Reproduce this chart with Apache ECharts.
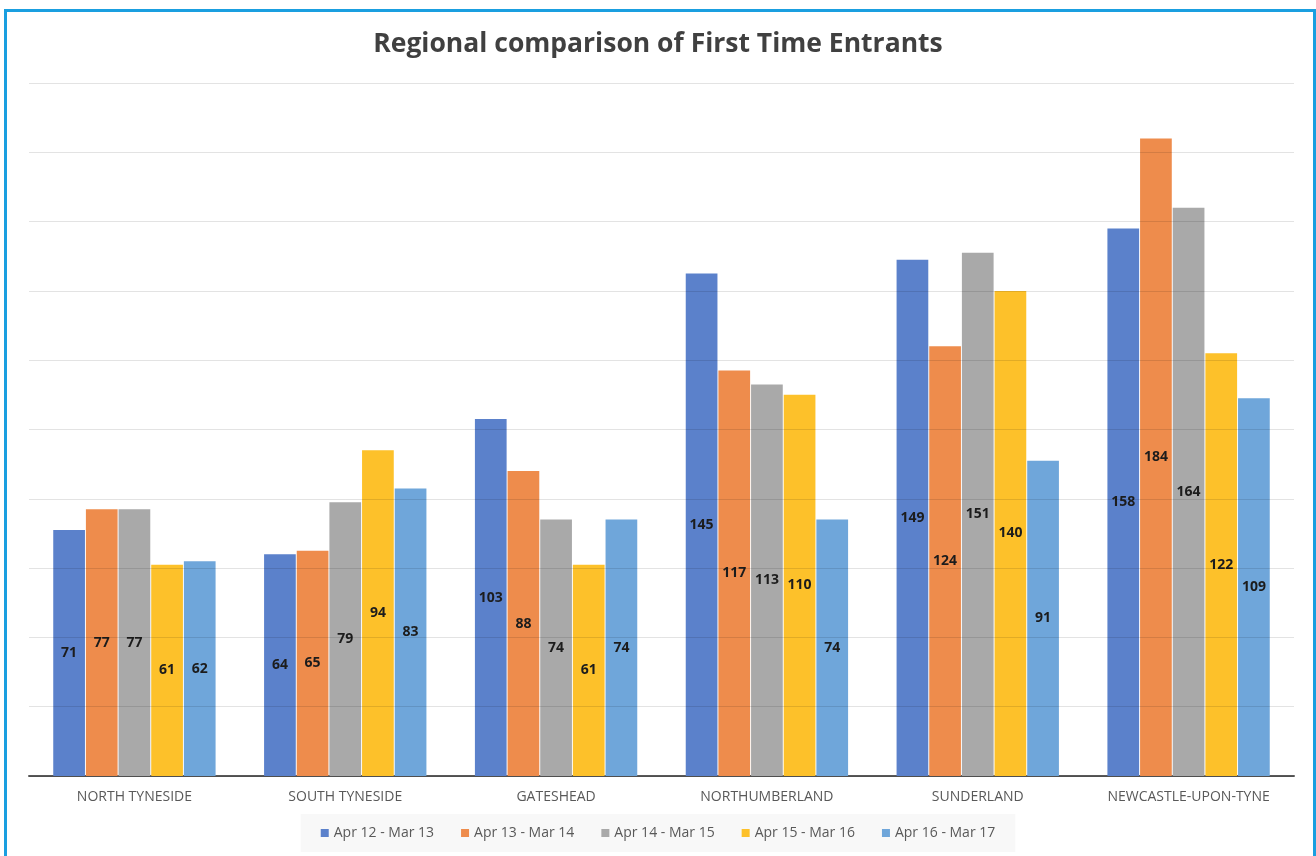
<!DOCTYPE html>
<html>
<head>
<meta charset="utf-8">
<title>Regional comparison of First Time Entrants</title>
<script src="https://cdn.jsdelivr.net/npm/echarts@6/dist/echarts.min.js"></script>
<style>
  html, body { margin: 0; padding: 0; background: #fff; }
  #chart { width: 1316px; height: 856px; }
</style>
</head>
<body>
<div id="chart"></div>
<script>
const regions = ['NORTH TYNESIDE', 'SOUTH TYNESIDE', 'GATESHEAD', 'NORTHUMBERLAND', 'SUNDERLAND', 'NEWCASTLE-UPON-TYNE']
const periods = ['Apr 12 - Mar 13', 'Apr 13 - Mar 14', 'Apr 14 - Mar 15', 'Apr 15 - Mar 16', 'Apr 16 - Mar 17']

const apr12 = [71, 64, 103, 145, 149, 158]
const apr13 = [77, 65, 88, 117, 124, 184]
const apr14 = [77, 79, 74, 113, 151, 164]
const apr15 = [61, 94, 61, 110, 140, 122]
const apr16 = [62, 83, 74, 74, 91, 109]

const colors = ['#5b81cb', '#ee8c4c', '#a9a9a9', '#fdc12a', '#6fa6da']

const chart = echarts.init(document.getElementById('chart'))

const makeSeries = (name, data, color) => ({
  name: name,
  type: 'bar',
  data: data,
  barGap: '3%',
  barCategoryGap: '23%',
  itemStyle: { color: color },
  label: {
    show: true,
    position: 'inside',
    color: '#1c1c1c',
    fontWeight: 'bold',
    fontSize: 14,
    fontFamily: 'Open Sans'
  }
})

const option = {
  animation: false,
  textStyle: { fontFamily: 'Open Sans' },
  title: {
    text: 'Regional comparison of First Time Entrants',
    left: 'center',
    top: 26,
    textStyle: {
      color: '#404040',
      fontSize: 26.5,
      fontWeight: 'bold',
      fontFamily: 'Open Sans'
    }
  },
  legend: {
    data: periods,
    bottom: 4,
    left: 'center',
    itemWidth: 8,
    itemHeight: 8,
    itemGap: 27,
    icon: 'rect',
    padding: [12, 20],
    backgroundColor: '#f8f8f8',
    textStyle: { color: '#595959', fontSize: 14 }
  },
  grid: {
    left: 29,
    right: 22,
    top: 83,
    bottom: 80
  },
  xAxis: {
    type: 'category',
    data: regions,
    axisTick: { show: false },
    axisLine: { lineStyle: { color: '#595959', width: 2 } },
    axisLabel: { color: '#595959', fontSize: 14, margin: 14, interval: 0 }
  },
  yAxis: {
    type: 'value',
    min: 0,
    max: 200,
    interval: 20,
    z: 3,
    axisLabel: { show: false },
    axisLine: { show: false },
    axisTick: { show: false },
    splitLine: { lineStyle: { color: 'rgba(0,0,0,0.11)', width: 1 } }
  },
  graphic: [{
    type: 'rect',
    shape: { x: 5.5, y: 10.5, width: 1309, height: 900 },
    style: { fill: 'none', stroke: '#1a9fe0', lineWidth: 3 },
    silent: true
  }],
  series: [
    makeSeries(periods[0], apr12, colors[0]),
    makeSeries(periods[1], apr13, colors[1]),
    makeSeries(periods[2], apr14, colors[2]),
    makeSeries(periods[3], apr15, colors[3]),
    makeSeries(periods[4], apr16, colors[4])
  ]
}

chart.setOption(option)

window.addEventListener('resize', () => {
  chart.resize()
})
</script>
</body>
</html>
